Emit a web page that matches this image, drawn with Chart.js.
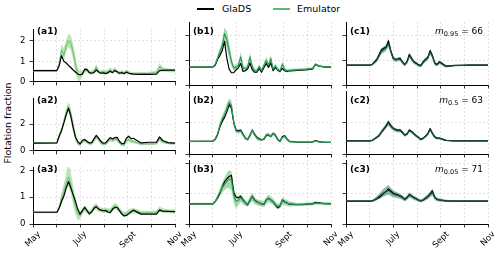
<!DOCTYPE html>
<html>
<head>
<meta charset="utf-8">
<script src="https://cdn.jsdelivr.net/npm/chart.js@4.4.1/dist/chart.umd.min.js"></script>
<style>
  body { margin: 0; width: 500px; height: 257px; position: relative; background: #fff; overflow: hidden;
         font-family: "DejaVu Sans", sans-serif; color: #000; }
  canvas { position: absolute; }
  .txt { position: absolute; white-space: nowrap; font-size: 9.5px; line-height: 12px; }
  .plab { position: absolute; white-space: nowrap; font-size: 9px; font-weight: bold; line-height: 10px; }
  .mlab { position: absolute; white-space: nowrap; font-size: 9px; line-height: 10px; text-align: right; }
  .mlab sub { font-size: 6.5px; vertical-align: -2px; line-height: 0; }
  .line { position: absolute; height: 2px; }
</style>
</head>
<body>
<div class="line" style="left:197px;top:8px;width:17px;background:#000"></div>
<div class="txt" style="left:222px;top:3px">GlaDS</div>
<div class="line" style="left:273px;top:8px;width:17px;background:#5cb87f"></div>
<div class="txt" style="left:297px;top:3px">Emulator</div>
<div class="txt" style="left:-52px;top:117px;width:120px;text-align:center;transform:rotate(-90deg)">Flotation fraction</div>

<script>
// days since 1 May
const days = [0, 31, 34, 37, 40, 43, 46, 49, 52, 55, 58, 61, 64, 67, 70, 73, 76, 79, 82, 85, 88, 91, 94, 97, 100, 103, 106, 109, 112, 115, 118, 121, 124, 127, 130, 140, 150, 160, 164, 168, 175, 184];

const gladsA1 = [0.55,0.55,0.8,1.28,1.0,0.92,0.8,0.7,0.58,0.48,0.38,0.35,0.38,0.62,0.6,0.45,0.42,0.45,0.58,0.48,0.42,0.44,0.4,0.44,0.52,0.45,0.55,0.5,0.42,0.45,0.4,0.48,0.42,0.4,0.38,0.37,0.37,0.38,0.55,0.56,0.58,0.57];
const emuA1   = [0.55,0.55,0.9,1.55,1.3,1.75,2.0,1.9,1.45,0.85,0.38,0.3,0.42,0.55,0.58,0.45,0.45,0.52,0.72,0.5,0.45,0.5,0.45,0.5,0.58,0.5,0.6,0.48,0.42,0.48,0.42,0.5,0.45,0.4,0.4,0.4,0.42,0.45,0.75,0.6,0.56,0.55];
const loA1    = [0.5,0.5,0.75,1.25,1.05,1.45,1.7,1.55,1.05,0.45,0.08,0.03,0.28,0.45,0.48,0.35,0.36,0.42,0.6,0.4,0.36,0.4,0.36,0.4,0.46,0.4,0.48,0.38,0.34,0.38,0.34,0.4,0.36,0.33,0.33,0.33,0.35,0.37,0.6,0.5,0.47,0.46];
const hiA1    = [0.6,0.6,1.05,1.85,1.65,2.05,2.35,2.25,1.85,1.25,0.68,0.55,0.56,0.66,0.7,0.56,0.55,0.64,0.86,0.62,0.55,0.6,0.55,0.6,0.7,0.6,0.72,0.58,0.52,0.58,0.52,0.6,0.54,0.48,0.48,0.48,0.5,0.54,0.92,0.72,0.65,0.64];

const gladsA2 = [0.58,0.6,1.1,1.55,2.1,2.7,3.2,2.6,1.75,1.05,0.7,0.52,0.8,0.85,0.72,0.6,0.62,0.9,1.17,0.95,0.72,0.58,0.6,0.8,1.0,0.9,1.0,1.02,0.72,0.55,0.55,0.95,1.1,0.92,0.95,0.6,0.65,0.65,1.05,0.78,0.62,0.58];
const emuA2   = [0.58,0.6,1.2,1.5,2.2,2.9,3.3,2.8,1.9,1.0,0.6,0.5,0.7,0.8,0.65,0.55,0.55,0.8,1.05,0.85,0.6,0.5,0.5,0.7,0.88,0.78,0.88,0.85,0.6,0.45,0.45,0.75,0.85,0.75,0.7,0.52,0.53,0.55,0.9,0.68,0.57,0.55];
const loA2    = [0.52,0.54,1.05,1.3,1.9,2.5,2.95,2.4,1.5,0.7,0.4,0.35,0.55,0.65,0.52,0.43,0.43,0.66,0.9,0.7,0.48,0.4,0.4,0.57,0.74,0.65,0.74,0.71,0.48,0.35,0.35,0.62,0.71,0.62,0.58,0.43,0.44,0.46,0.76,0.57,0.48,0.47];
const hiA2    = [0.64,0.66,1.35,1.75,2.5,3.25,3.65,3.2,2.3,1.35,0.8,0.65,0.85,0.95,0.78,0.67,0.67,0.94,1.2,1.0,0.72,0.6,0.6,0.83,1.02,0.91,1.02,0.99,0.72,0.55,0.55,0.88,0.99,0.88,0.82,0.61,0.62,0.64,1.04,0.79,0.66,0.63];

const gladsA3 = [0.44,0.44,0.6,0.85,1.05,1.35,1.59,1.35,1.1,0.85,0.55,0.37,0.5,0.62,0.5,0.38,0.45,0.58,0.66,0.56,0.52,0.5,0.5,0.45,0.42,0.55,0.62,0.62,0.5,0.38,0.3,0.32,0.38,0.45,0.52,0.37,0.37,0.37,0.52,0.48,0.47,0.46];
const emuA3   = [0.44,0.44,0.62,0.95,1.2,1.55,1.75,1.5,1.05,0.65,0.38,0.32,0.48,0.6,0.48,0.4,0.5,0.62,0.65,0.55,0.52,0.5,0.52,0.5,0.48,0.58,0.68,0.62,0.52,0.42,0.35,0.38,0.45,0.48,0.5,0.42,0.42,0.43,0.55,0.5,0.47,0.46];
const loA3    = [0.4,0.4,0.52,0.75,0.95,1.25,1.4,1.15,0.7,0.35,0.15,0.18,0.36,0.48,0.38,0.3,0.4,0.5,0.54,0.45,0.43,0.41,0.42,0.4,0.38,0.47,0.56,0.5,0.42,0.33,0.26,0.29,0.35,0.38,0.4,0.35,0.35,0.36,0.45,0.42,0.4,0.39];
const hiA3    = [0.49,0.49,0.75,1.2,1.5,1.9,2.25,1.95,1.45,0.98,0.62,0.47,0.6,0.72,0.6,0.5,0.6,0.74,0.78,0.66,0.62,0.6,0.62,0.6,0.58,0.69,0.8,0.74,0.62,0.52,0.45,0.48,0.56,0.58,0.6,0.5,0.5,0.51,0.66,0.59,0.55,0.54];

const gladsB1 = [0.73,0.73,0.8,1.05,1.2,1.4,1.78,1.1,0.65,0.5,0.5,0.62,0.7,0.88,0.55,0.58,0.65,0.9,0.62,0.52,0.52,0.68,0.52,0.7,0.88,0.72,0.9,0.58,0.72,0.6,0.55,0.68,0.58,0.55,0.58,0.6,0.62,0.65,0.85,0.78,0.74,0.72];
const emuB1   = [0.73,0.73,0.85,1.1,1.35,1.6,2.1,1.85,1.4,0.95,0.7,0.72,0.8,1.15,0.7,0.65,0.75,1.15,0.75,0.58,0.58,0.75,0.58,0.8,1.0,0.8,1.08,0.65,0.78,0.62,0.58,0.85,0.62,0.58,0.6,0.62,0.64,0.67,0.84,0.77,0.74,0.73];
const loB1    = [0.7,0.7,0.8,1.0,1.2,1.4,1.75,1.5,1.1,0.75,0.58,0.6,0.68,0.95,0.6,0.56,0.65,0.98,0.65,0.5,0.5,0.65,0.5,0.68,0.86,0.69,0.92,0.56,0.68,0.54,0.5,0.74,0.54,0.51,0.54,0.57,0.59,0.62,0.79,0.73,0.7,0.69];
const hiB1    = [0.76,0.76,0.9,1.2,1.5,1.8,2.35,2.2,1.7,1.15,0.82,0.84,0.92,1.35,0.8,0.74,0.85,1.32,0.85,0.66,0.66,0.85,0.66,0.92,1.14,0.91,1.24,0.74,0.88,0.7,0.66,0.96,0.7,0.65,0.66,0.67,0.69,0.72,0.89,0.81,0.78,0.77];

const gladsB2 = [0.79,0.8,0.92,1.2,1.7,2.05,2.3,2.65,3.1,2.9,1.95,1.5,1.45,1.5,1.25,1.0,0.9,1.15,1.5,1.25,1.05,0.95,0.9,0.92,1.15,1.2,1.1,1.3,1.2,0.92,0.8,1.1,1.15,0.95,0.8,0.74,0.74,0.75,0.85,0.78,0.74,0.73];
const emuB2   = [0.79,0.8,0.95,1.25,1.8,2.2,2.45,2.85,3.25,3.05,2.0,1.45,1.4,1.45,1.2,0.98,0.92,1.2,1.5,1.2,1.0,0.9,0.88,0.95,1.2,1.22,1.1,1.3,1.15,0.88,0.8,1.05,1.1,0.92,0.78,0.75,0.75,0.76,0.83,0.77,0.74,0.73];
const loB2    = [0.74,0.75,0.87,1.1,1.6,1.95,2.2,2.6,2.95,2.7,1.75,1.3,1.28,1.33,1.1,0.88,0.83,1.08,1.36,1.08,0.9,0.81,0.8,0.86,1.08,1.1,1.0,1.18,1.04,0.8,0.72,0.95,1.0,0.83,0.71,0.69,0.69,0.7,0.77,0.71,0.69,0.68];
const hiB2    = [0.84,0.85,1.05,1.4,2.0,2.45,2.75,3.15,3.5,3.35,2.25,1.6,1.52,1.58,1.3,1.08,1.01,1.32,1.64,1.32,1.1,0.99,0.96,1.04,1.32,1.34,1.2,1.42,1.26,0.96,0.88,1.15,1.2,1.01,0.85,0.81,0.81,0.82,0.89,0.83,0.79,0.78];

const gladsB3 = [0.67,0.67,0.75,0.87,1.02,1.22,1.4,1.5,1.58,1.62,1.05,0.9,0.87,0.92,0.8,0.7,0.64,0.78,0.92,0.8,0.74,0.7,0.67,0.65,0.8,0.86,0.8,0.74,0.64,0.54,0.6,0.8,0.74,0.7,0.66,0.64,0.65,0.67,0.72,0.7,0.68,0.68];
const emuB3   = [0.67,0.67,0.75,0.9,1.05,1.2,1.32,1.42,1.5,1.45,0.95,0.75,0.78,0.88,0.78,0.7,0.66,0.8,0.9,0.78,0.72,0.7,0.68,0.66,0.78,0.85,0.8,0.74,0.65,0.58,0.62,0.78,0.72,0.7,0.67,0.65,0.66,0.67,0.7,0.69,0.68,0.67];
const loB3    = [0.63,0.63,0.7,0.8,0.92,1.05,1.12,1.2,1.18,1.12,0.7,0.52,0.62,0.74,0.66,0.6,0.57,0.68,0.76,0.66,0.62,0.6,0.58,0.56,0.66,0.72,0.68,0.63,0.55,0.49,0.53,0.66,0.62,0.6,0.58,0.6,0.61,0.62,0.65,0.64,0.63,0.62];
const hiB3    = [0.71,0.71,0.8,1.0,1.18,1.38,1.55,1.7,1.8,1.75,1.2,0.95,0.92,1.0,0.9,0.8,0.75,0.92,1.04,0.9,0.82,0.8,0.78,0.76,0.9,0.98,0.92,0.85,0.75,0.67,0.71,0.9,0.82,0.8,0.76,0.7,0.71,0.72,0.75,0.74,0.73,0.72];

const gladsC1 = [0.81,0.81,0.84,0.95,1.05,1.25,1.45,1.5,1.55,1.8,1.4,1.1,1.05,1.06,1.1,0.95,0.84,0.95,1.25,1.1,0.95,0.9,0.82,0.8,0.95,1.05,1.12,1.4,1.2,0.9,0.84,0.95,0.9,0.82,0.77,0.8,0.8,0.81,0.81,0.81,0.81,0.81];
const emuC1   = [0.81,0.81,0.84,0.93,1.02,1.2,1.38,1.45,1.52,1.7,1.38,1.1,1.02,1.04,1.06,0.93,0.82,0.93,1.2,1.06,0.93,0.88,0.8,0.78,0.92,1.02,1.1,1.35,1.18,0.88,0.82,0.92,0.88,0.8,0.76,0.79,0.8,0.81,0.81,0.81,0.81,0.81];
const loC1    = [0.79,0.79,0.8,0.86,0.94,1.1,1.26,1.33,1.4,1.55,1.26,1.0,0.94,0.96,0.98,0.86,0.76,0.86,1.1,0.98,0.86,0.81,0.74,0.72,0.85,0.94,1.01,1.22,1.07,0.8,0.76,0.85,0.81,0.74,0.71,0.76,0.77,0.78,0.78,0.78,0.78,0.78];
const hiC1    = [0.83,0.83,0.88,1.0,1.1,1.3,1.5,1.57,1.65,1.9,1.5,1.2,1.1,1.12,1.14,1.0,0.88,1.0,1.3,1.14,1.0,0.95,0.86,0.84,0.99,1.1,1.19,1.48,1.29,0.96,0.88,0.99,0.95,0.86,0.81,0.82,0.83,0.84,0.84,0.84,0.84,0.84];

const gladsC2 = [0.83,0.83,0.86,0.95,1.05,1.15,1.38,1.55,1.75,2.02,1.8,1.62,1.55,1.5,1.52,1.38,1.2,1.25,1.5,1.42,1.28,1.15,1.05,0.92,1.0,1.12,1.28,1.6,1.3,1.08,1.0,1.0,0.95,0.9,0.85,0.83,0.83,0.83,0.83,0.83,0.83,0.83];
const emuC2   = [0.83,0.83,0.86,0.96,1.06,1.18,1.4,1.58,1.78,1.96,1.75,1.6,1.52,1.46,1.48,1.35,1.18,1.24,1.48,1.4,1.26,1.13,1.03,0.9,0.98,1.1,1.26,1.55,1.28,1.06,0.98,0.98,0.94,0.89,0.85,0.83,0.83,0.83,0.83,0.83,0.83,0.83];
const loC2    = [0.8,0.8,0.82,0.9,0.98,1.08,1.28,1.44,1.62,1.78,1.6,1.47,1.4,1.35,1.37,1.25,1.09,1.14,1.36,1.29,1.16,1.04,0.95,0.84,0.91,1.02,1.16,1.42,1.18,0.98,0.91,0.91,0.88,0.84,0.81,0.8,0.8,0.8,0.8,0.8,0.8,0.8];
const hiC2    = [0.86,0.86,0.9,1.02,1.14,1.28,1.52,1.72,1.94,2.14,1.9,1.73,1.64,1.57,1.59,1.45,1.27,1.34,1.6,1.51,1.36,1.22,1.11,0.96,1.05,1.18,1.36,1.68,1.38,1.14,1.05,1.05,1.0,0.94,0.89,0.86,0.86,0.86,0.86,0.86,0.86,0.86];

const gladsC3 = [0.76,0.76,0.77,0.8,0.84,0.88,0.95,1.02,1.08,1.17,1.1,1.03,1.0,0.97,0.94,0.9,0.82,0.88,0.98,0.93,0.88,0.84,0.8,0.77,0.8,0.86,0.92,1.0,1.1,0.88,0.82,0.8,0.79,0.78,0.77,0.76,0.76,0.76,0.76,0.76,0.76,0.76];
const emuC3   = [0.76,0.76,0.77,0.81,0.86,0.92,0.98,1.04,1.08,1.12,1.06,1.0,0.97,0.95,0.92,0.88,0.81,0.87,0.96,0.92,0.87,0.83,0.79,0.77,0.8,0.85,0.9,0.98,1.06,0.88,0.82,0.8,0.79,0.78,0.77,0.76,0.76,0.76,0.76,0.76,0.76,0.76];
const loC3    = [0.74,0.74,0.74,0.76,0.79,0.83,0.87,0.92,0.95,0.97,0.93,0.89,0.87,0.86,0.84,0.81,0.75,0.8,0.88,0.85,0.8,0.77,0.74,0.72,0.74,0.78,0.82,0.89,0.95,0.8,0.76,0.75,0.74,0.74,0.73,0.73,0.73,0.73,0.73,0.73,0.73,0.73];
const hiC3    = [0.78,0.78,0.8,0.86,0.93,1.01,1.1,1.18,1.24,1.3,1.2,1.12,1.08,1.05,1.01,0.96,0.88,0.95,1.05,1.0,0.94,0.9,0.85,0.82,0.86,0.93,0.99,1.08,1.18,0.96,0.88,0.86,0.84,0.82,0.81,0.79,0.79,0.79,0.79,0.79,0.79,0.79];

const monthTicks = [0, 31, 61, 92, 123, 153, 184];
const monthLabels = { 0: 'May', 61: 'July', 123: 'Sept', 184: 'Nov' };
const yMax = [2.57, 3.96, 2.13];
const yTicks = [[0, 1, 2], [0, 2], [0, 1, 2]];
const mLabels = [['0.95', '66'], ['0.5', '63'], ['0.05', '71']];

const panels = [
    [ {id: 'a1', glads: gladsA1, emu: emuA1, lo: loA1, hi: hiA1},
      {id: 'b1', glads: gladsB1, emu: emuB1, lo: loB1, hi: hiB1},
      {id: 'c1', glads: gladsC1, emu: emuC1, lo: loC1, hi: hiC1} ],
    [ {id: 'a2', glads: gladsA2, emu: emuA2, lo: loA2, hi: hiA2},
      {id: 'b2', glads: gladsB2, emu: emuB2, lo: loB2, hi: hiB2},
      {id: 'c2', glads: gladsC2, emu: emuC2, lo: loC2, hi: hiC2} ],
    [ {id: 'a3', glads: gladsA3, emu: emuA3, lo: loA3, hi: hiA3},
      {id: 'b3', glads: gladsB3, emu: emuB3, lo: loB3, hi: hiB3},
      {id: 'c3', glads: gladsC3, emu: emuC3, lo: loC3, hi: hiC3} ]
];

// layout of the 3x3 grid
const colLeft = [33, 189, 346];
const rowTop = [22, 91, 160];
const rowH = [63, 63, 64];
const plotW = 142;
const lineColors = ['#74c476', '#2a9d5c', '#17503a'];
const bandColors = ['rgba(161,217,155,0.7)', 'rgba(116,196,130,0.65)', 'rgba(65,140,100,0.6)'];

const xLabelPlugin = {
    id: 'xlabels',
    afterDraw(chart) {
        const ctx = chart.ctx;
        const x = chart.scales.x;
        const bottom = chart.chartArea.bottom;
        ctx.save();
        ctx.font = '8.5px "DejaVu Sans"';
        ctx.fillStyle = '#000';
        ctx.textAlign = 'center';
        ctx.textBaseline = 'middle';
        monthTicks.forEach(v => {
            const txt = monthLabels[v];
            if (!txt) return;
            const w = ctx.measureText(txt).width;
            const s = (w + 7) / (2 * Math.SQRT2);
            ctx.save();
            ctx.translate(x.getPixelForValue(v), bottom + 6.5 + s);
            ctx.rotate(-Math.PI / 4);
            ctx.fillText(txt, 0, 0);
            ctx.restore();
        });
        ctx.restore();
    }
};

function makePanel(p, r, c) {
    const padL = 18, padT = 2, padR = 12;
    const padB = r === 2 ? 40 : 6;
    const cv = document.createElement('canvas');
    cv.width = padL + plotW + padR;
    cv.height = padT + rowH[r] + padB;
    cv.style.left = (colLeft[c] - padL) + 'px';
    cv.style.top = (rowTop[r] - padT) + 'px';
    document.body.appendChild(cv);

    const pts = arr => days.map((d, i) => ({x: d, y: arr[i]}));
    const gridOpts = {color: '#dadada', lineWidth: 0.8, tickLength: 3.5, tickColor: '#000', tickWidth: 0.8};
    const borderOpts = {color: '#000', width: 1, dash: [2, 2]};

    new Chart(cv, {
        type: 'line',
        data: {
            datasets: [
                {data: pts(p.lo), borderWidth: 0, borderColor: 'transparent', pointRadius: 0, fill: false, order: 3},
                {data: pts(p.hi), borderWidth: 0, borderColor: 'transparent', pointRadius: 0, fill: '-1',
                 backgroundColor: bandColors[c], order: 3},
                {data: pts(p.glads), borderColor: '#000', borderWidth: 1.2, pointRadius: 0, fill: false,
                 order: c === 0 ? 1 : 2},
                {data: pts(p.emu), borderColor: lineColors[c], borderWidth: 1.2, pointRadius: 0, fill: false,
                 order: c === 0 ? 2 : 1}
            ]
        },
        options: {
            responsive: false,
            animation: false,
            devicePixelRatio: 1,
            layout: {padding: {top: padT, right: padR, left: 0, bottom: 0}},
            plugins: {legend: {display: false}, tooltip: {enabled: false}},
            elements: {line: {tension: 0, borderJoinStyle: 'round'}},
            scales: {
                x: {
                    type: 'linear', min: 0, max: 184,
                    afterBuildTicks: s => { s.ticks = monthTicks.map(v => ({value: v})); },
                    afterFit: s => { s.height = padB; },
                    ticks: {display: false},
                    grid: gridOpts,
                    border: borderOpts
                },
                y: {
                    min: 0, max: yMax[r],
                    afterBuildTicks: s => { s.ticks = yTicks[r].map(v => ({value: v})); },
                    afterFit: s => { s.width = padL; },
                    ticks: {display: c === 0, color: '#000', padding: 4,
                            font: {family: 'DejaVu Sans', size: 8.5}, callback: v => String(v)},
                    grid: gridOpts,
                    border: borderOpts
                }
            }
        },
        plugins: r === 2 ? [xLabelPlugin] : []
    });

    const lab = document.createElement('div');
    lab.className = 'plab';
    lab.style.left = (colLeft[c] + 4) + 'px';
    lab.style.top = (rowTop[r] + 3.5) + 'px';
    lab.textContent = '(' + p.id + ')';
    document.body.appendChild(lab);

    if (c === 2) {
        const m = document.createElement('div');
        m.className = 'mlab';
        m.style.right = (500 - (colLeft[c] + plotW - 5)) + 'px';
        m.style.top = (rowTop[r] + 3.5) + 'px';
        m.innerHTML = '<i>m</i><sub>' + mLabels[r][0] + '</sub> = ' + mLabels[r][1];
        document.body.appendChild(m);
    }
}

panels.forEach((row, r) => row.forEach((p, c) => {
    [p.glads, p.emu, p.lo, p.hi].forEach(a => {
        if (a.length !== days.length) throw new Error(p.id + ' length ' + a.length);
    });
    makePanel(p, r, c);
}));
</script>
</body>
</html>
